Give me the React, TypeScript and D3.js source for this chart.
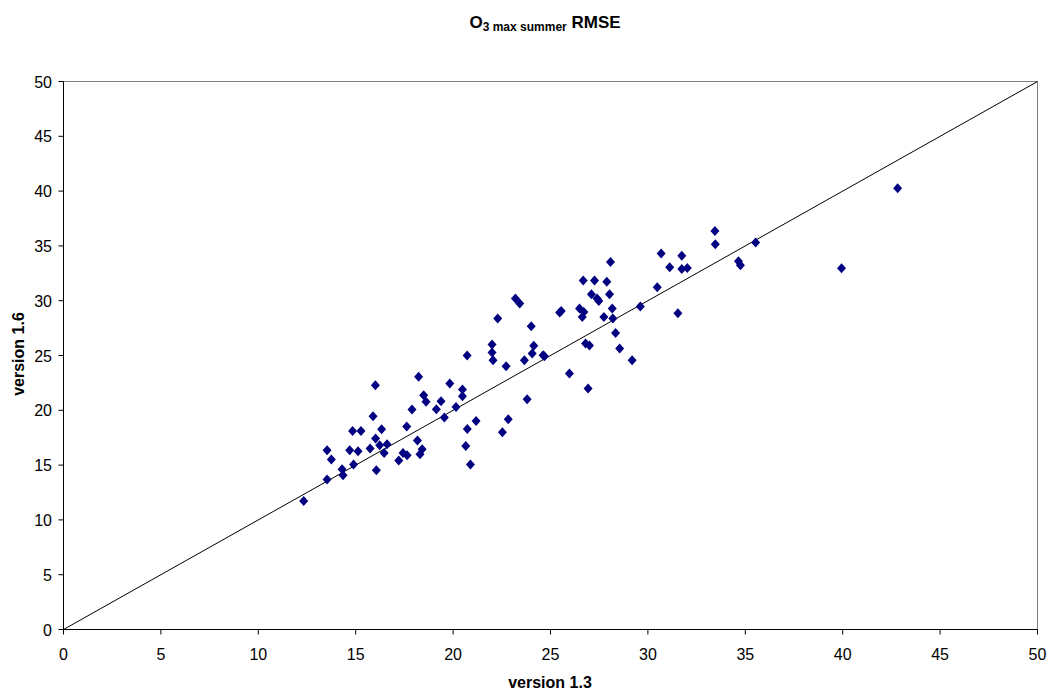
import React from "react";
import * as d3 from "d3";

const v13: number[] = [
  12.33, 13.53, 13.75, 13.53, 14.30, 14.35, 14.69, 14.84, 14.89, 15.12,
  15.27, 15.74, 15.89, 16.01, 16.02, 16.06, 16.23, 16.33, 16.46, 16.61,
  17.21, 17.43, 17.64, 17.62, 17.89, 18.17, 18.23, 18.30, 18.41, 18.49,
  18.61, 19.14, 19.38, 19.55, 19.83, 20.15, 20.48, 20.48, 20.65, 20.72,
  20.73, 20.89, 21.18, 22.00, 22.00, 22.05, 22.29, 22.53, 22.72, 22.83,
  23.20, 23.42, 23.66, 23.80, 24.01, 24.06, 24.14, 24.62, 24.69, 25.47,
  25.55, 25.97, 26.49, 26.63, 26.71, 26.68, 26.80, 26.93, 27.00, 27.10,
  27.26, 27.39, 27.48, 27.74, 27.89, 28.03, 28.08, 28.17, 28.20, 28.34,
  28.55, 29.19, 29.61, 30.48, 30.68, 31.12, 31.54, 31.74, 31.74, 32.02,
  33.44, 33.46, 34.65, 34.75, 35.53, 39.94, 42.82,
];
const v16: number[] = [
  11.73, 16.36, 15.51, 13.69, 14.63, 14.08, 16.36, 18.12, 15.05, 16.27,
  18.12, 16.51, 19.46, 22.29, 17.43, 14.53, 16.82, 18.28, 16.11, 16.91,
  15.42, 16.11, 15.90, 18.52, 20.07, 17.24, 23.05, 15.99, 16.45, 21.38,
  20.77, 20.10, 20.83, 19.34, 22.45, 20.31, 21.90, 21.29, 16.75, 25.00,
  18.30, 15.05, 19.03, 26.00, 25.27, 24.57, 28.38, 18.00, 24.02, 19.19,
  30.20, 29.74, 24.57, 21.01, 27.67, 25.18, 25.88, 25.03, 24.94, 28.92,
  29.07, 23.36, 29.29, 28.52, 28.98, 31.84, 26.09, 21.99, 25.91, 30.59,
  31.84, 30.20, 29.98, 28.52, 31.72, 30.59, 33.54, 29.29, 28.38, 27.06,
  25.64, 24.57, 29.47, 31.23, 34.31, 33.06, 28.86, 34.09, 32.90, 32.99,
  36.37, 35.16, 33.60, 33.24, 35.31, 32.97, 40.27,
];
const ticks: number[] = [0, 5, 10, 15, 20, 25, 30, 35, 40, 45, 50];

const W = 1050;
const H = 696;
const FONT = "'Liberation Sans', Arial, sans-serif";

export default function App() {
  const x = d3.scaleLinear().domain([0, 50]).range([63.5, 1037.5]);
  const y = d3.scaleLinear().domain([0, 50]).range([629.5, 81.5]);
  const diamond = "M0,-5L4.5,0L0,5L-4.5,0Z";
  const [x0, x1] = x.range();
  const [y0, y1] = y.range();

  return (
    <svg
      width={W}
      height={H}
      style={{ position: "absolute", left: 0, top: 0, background: "#fff" }}
      fontFamily={FONT}
    >
      <rect x={0} y={0} width={W} height={H} fill="#fff" />
      {/* title */}
      <text x={545} y={28} textAnchor="middle" fontWeight="bold" fill="#000">
        <tspan fontSize={17}>O</tspan>
        <tspan fontSize={12} dy={3}>3 max summer</tspan>
        <tspan fontSize={17} dy={-3}> RMSE</tspan>
      </text>
      {/* frame */}
      <line x1={x0} x2={x1} y1={y1} y2={y1} stroke="#808080" strokeWidth={1} />
      <line x1={x1} x2={x1} y1={y1} y2={y0} stroke="#808080" strokeWidth={1} />
      {/* diagonal */}
      <line x1={x(0)} y1={y(0)} x2={x(50)} y2={y(50)} stroke="#000" strokeWidth={1} />
      {/* axes */}
      <line x1={x0} x2={x0} y1={y1} y2={y0} stroke="#000" strokeWidth={1} />
      <line x1={x0} x2={x1} y1={y0} y2={y0} stroke="#000" strokeWidth={1} />
      {ticks.map((t) => (
        <g key={"x" + t}>
          <line x1={x(t)} x2={x(t)} y1={y0} y2={y0 + 5} stroke="#000" />
          <text x={x(t)} y={660} textAnchor="middle" fontSize={16} fill="#000">
            {t}
          </text>
        </g>
      ))}
      {ticks.map((t) => (
        <g key={"y" + t}>
          <line x1={x0 - 5} x2={x0} y1={y(t)} y2={y(t)} stroke="#000" />
          <text x={52} y={y(t) + 6} textAnchor="end" fontSize={16} fill="#000">
            {t}
          </text>
        </g>
      ))}
      {/* points */}
      {v13.map((vx, i) => (
        <path
          key={i}
          d={diamond}
          transform={`translate(${x(vx)},${y(v16[i])})`}
          fill="#000080"
        />
      ))}
      {/* axis labels */}
      <text x={550} y={688} textAnchor="middle" fontSize={16} fontWeight="bold" fill="#000">
        version 1.3
      </text>
      <text
        transform="translate(24,354) rotate(-90)"
        textAnchor="middle"
        fontSize={16}
        fontWeight="bold"
        fill="#000"
      >
        version 1.6
      </text>
    </svg>
  );
}
